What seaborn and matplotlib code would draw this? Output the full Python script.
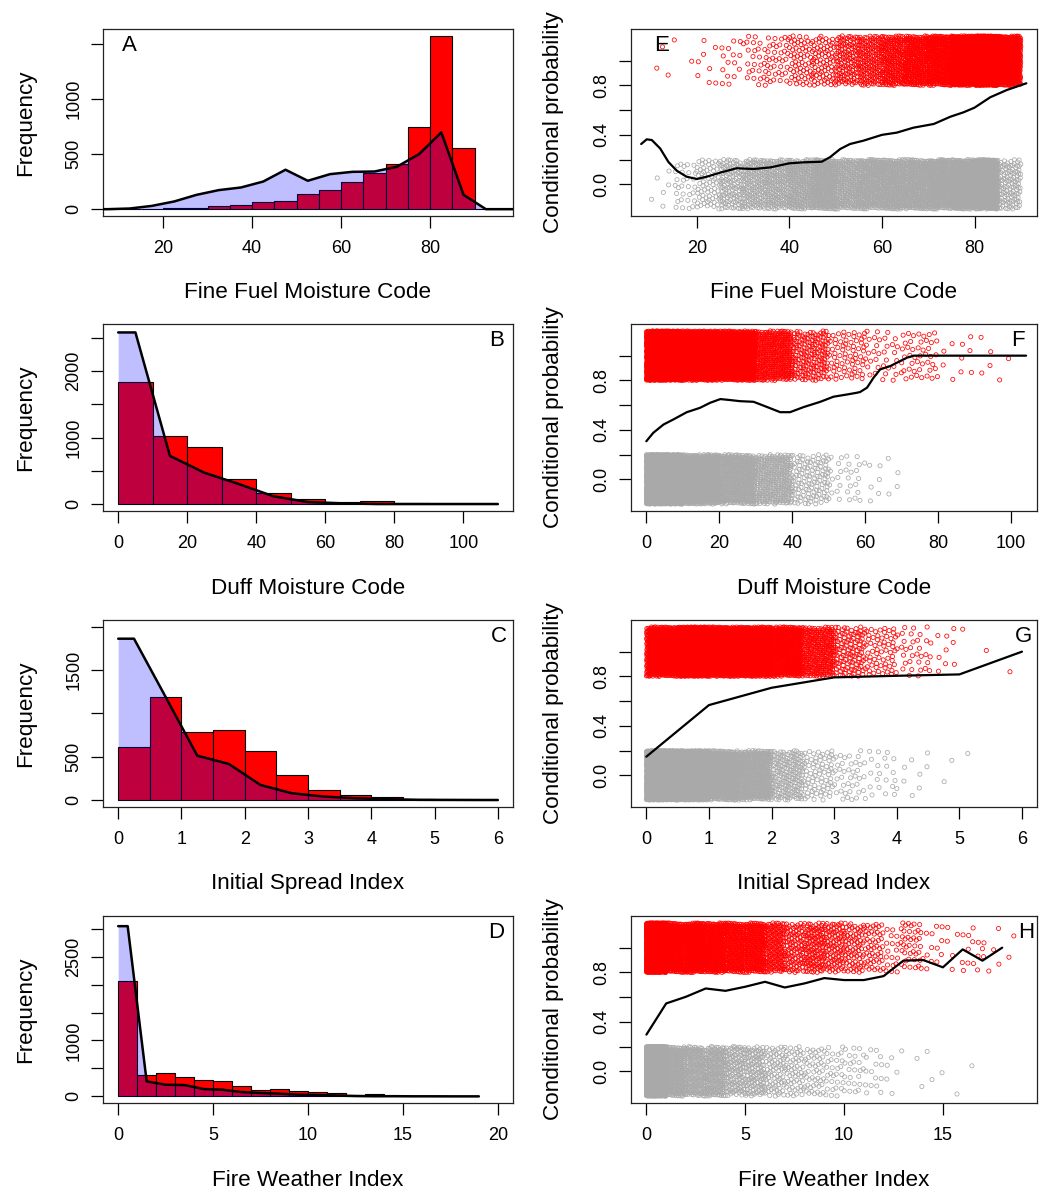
import numpy as np
import pandas as pd
import matplotlib
matplotlib.use("Agg")
import matplotlib.pyplot as plt
import seaborn as sns

# ---------------- histogram data (red = fire days, blue polygon = no-fire days) ----------------
ffmc_edges = [5, 10, 15, 20, 25, 30, 35, 40, 45, 50, 55, 60, 65, 70, 75, 80, 85, 90, 95, 100]
ffmc_fire = [0, 3, 2, 8, 15, 27, 36, 64, 76, 136, 173, 248, 324, 406, 748, 1576, 558, 0, 0]
ffmc_nofire = [0, 6, 30, 70, 130, 173, 197, 251, 358, 258, 318, 339, 342, 385, 500, 697, 130, 0, 0]

dmc_edges = [0, 10, 20, 30, 40, 50, 60, 70, 80, 90, 100, 110]
dmc_fire = [1841, 1026, 860, 382, 171, 70, 35, 45, 10, 6, 1]
dmc_nofire = [2580, 724, 470, 300, 116, 30, 10, 0, 0, 0, 0]

isi_edges = [0.0, 0.5, 1.0, 1.5, 2.0, 2.5, 3.0, 3.5, 4.0, 4.5, 5.0, 5.5, 6.0]
isi_fire = [616, 1194, 785, 808, 562, 289, 119, 62, 31, 12, 2, 1]
isi_nofire = [1863, 1190, 512, 416, 173, 77, 40, 20, 9, 2, 1, 0]

fwi_edges = [0, 1, 2, 3, 4, 5, 6, 7, 8, 9, 10, 11, 12, 13, 14, 15, 16, 17, 18, 19]
fwi_fire = [2065, 387, 411, 351, 286, 280, 179, 107, 131, 101, 77, 54, 24, 36, 12, 6, 12, 6, 2]
fwi_nofire = [3046, 268, 208, 202, 131, 119, 77, 60, 48, 30, 24, 15, 6, 2, 3, 1, 1, 0, 0]

# ---------------- conditional probability curves ----------------
ffmc_cp_x = [8.0, 9.2, 10.3, 12.1, 13.9, 15.7, 17.8, 20.0, 22.2, 25.0, 28.6, 32.3, 35.9, 40.0,
             43.1, 47.0, 48.8, 51.0, 53.1, 56.0, 60.0, 63.2, 66.8, 71.2, 74.8, 77.6, 80.0, 83.4, 87.0, 91.2]
ffmc_cp_y = [0.326, 0.364, 0.358, 0.29, 0.18, 0.11, 0.062, 0.043, 0.062, 0.094, 0.13, 0.124, 0.137, 0.17,
             0.178, 0.183, 0.22, 0.286, 0.326, 0.353, 0.40, 0.418, 0.458, 0.488, 0.547, 0.582, 0.62, 0.704, 0.763, 0.817]

dmc_cp_x = [0, 1.9, 4.7, 7.4, 11.1, 14.7, 17.5, 20.3, 23.0, 25.7, 29.4, 33.0, 36.7, 39.4, 43.1, 47.7,
            51.3, 55.0, 57.7, 58.6, 60.5, 62.3, 64.1, 66.9, 68.7, 71.5, 73.3, 75.1, 104.1]
dmc_cp_y = [0.308, 0.376, 0.443, 0.484, 0.543, 0.578, 0.619, 0.649, 0.641, 0.632, 0.627, 0.586, 0.543, 0.543,
            0.584, 0.627, 0.668, 0.686, 0.700, 0.706, 0.741, 0.822, 0.889, 0.916, 0.943, 0.984, 1.0, 1.0, 1.0]

isi_cp_x = [0, 1, 2, 3, 4, 5, 6]
isi_cp_y = [0.151, 0.568, 0.708, 0.792, 0.805, 0.816, 1.0]

fwi_cp_x = [0, 1, 2, 3, 4, 5, 6, 7, 8, 9, 10, 11, 12, 13, 14, 15, 16, 17, 18]
fwi_cp_y = [0.297, 0.549, 0.603, 0.670, 0.651, 0.684, 0.724, 0.678, 0.711, 0.754, 0.738, 0.738,
            0.770, 0.895, 0.900, 0.841, 0.986, 0.895, 1.0]

# ---------------- labels / axes ----------------
var_names = ["Fine Fuel Moisture Code", "Duff Moisture Code", "Initial Spread Index", "Fire Weather Index"]
hist_letters = ["A", "B", "C", "D"]
cp_letters = ["E", "F", "G", "H"]
hist_xticks = [[20, 40, 60, 80], [0, 20, 40, 60, 80, 100], [0, 1, 2, 3, 4, 5, 6], [0, 5, 10, 15, 20]]
hist_yticks = [[0, 500, 1000, 1500], [0, 500, 1000, 1500, 2000, 2500],
               [0, 500, 1000, 1500, 2000], [0, 500, 1000, 1500, 2000, 2500, 3000]]
hist_ylabels = [["0", "500", "1000", ""], ["0", "", "1000", "", "2000", ""],
                ["0", "500", "", "1500", ""], ["0", "", "1000", "", "", "2500", ""]]
hist_xlim = [(6.5, 98.6), (-4.4, 114.4), (-0.24, 6.24), (-0.8, 20.8)]
hist_ylim = [(-62, 1636), (-105, 2707), (-81, 2079), (-119, 3228)]
cp_xticks = [[20, 40, 60, 80], [0, 20, 40, 60, 80, 100], [0, 1, 2, 3, 4, 5, 6], [0, 5, 10, 15]]
cp_xlim = [(5.8, 93.5), (-4.2, 107.1), (-0.245, 6.24), (-0.78, 19.76)]
cp_yticks = [0.0, 0.2, 0.4, 0.6, 0.8, 1.0]
cp_ylabels = ["0.0", "", "0.4", "", "0.8", ""]
hist_letter_pos = [(0.065, 0.882), (0.961, 0.882), (0.965, 0.882), (0.960, 0.882)]
cp_letter_pos = [(0.076, 0.885), (0.952, 0.882), (0.966, 0.882), (0.973, 0.885)]

hist_data = [(ffmc_edges, ffmc_fire, ffmc_nofire), (dmc_edges, dmc_fire, dmc_nofire),
             (isi_edges, isi_fire, isi_nofire), (fwi_edges, fwi_fire, fwi_nofire)]
cp_data = [(ffmc_cp_x, ffmc_cp_y), (dmc_cp_x, dmc_cp_y), (isi_cp_x, isi_cp_y), (fwi_cp_x, fwi_cp_y)]

# ---------------- style ----------------
sns.set_style("ticks")
plt.rcParams["font.family"] = ["Liberation Sans", "DejaVu Sans"]
plt.rcParams["axes.edgecolor"] = "#222222"
plt.rcParams["axes.linewidth"] = 0.9
plt.rcParams["text.color"] = "black"
plt.rcParams["axes.labelcolor"] = "black"
plt.rcParams["xtick.color"] = "black"
plt.rcParams["ytick.color"] = "black"

FIRE = "#FF0000"
NOFIRE_FILL = (0.0, 0.0, 1.0, 0.25)
GRAY = "#A9A9A9"
TICK_FS = 13
LAB_FS = 16.2
LET_FS = 16

W, H = 1047, 1189
fig = plt.figure(figsize=(W / 100, H / 100), dpi=100)
rows_top = [29, 324, 620, 916]
box_h = 187
left_box = (103, 410)
right_box = (631, 406)


def style_axis(ax, xticks, yticks, ylabels, xlim, ylim, xlabel, ylabel, wpx):
    ax.set_xlim(*xlim)
    ax.set_ylim(*ylim)
    ax.set_xticks(xticks)
    ax.set_xticklabels([str(t) for t in xticks])
    ax.set_yticks(yticks)
    ax.set_yticklabels(ylabels)
    ax.tick_params(axis="both", direction="out", length=8.5, width=0.9, colors="black",
                   labelsize=TICK_FS, bottom=True, left=True, top=False, right=False)
    ax.tick_params(axis="x", pad=8.5)
    ax.tick_params(axis="y", pad=6.5, labelrotation=90)
    for lbl in ax.get_yticklabels():
        lbl.set_va("center")
    ax.set_xlabel(xlabel, fontsize=LAB_FS, va="center", color="black")
    ax.xaxis.set_label_coords(0.5, -77 / box_h)
    ax.set_ylabel(ylabel, fontsize=LAB_FS, va="center", color="black")
    ax.yaxis.set_label_coords(-77 / wpx, 0.5)
    for s in ax.spines.values():
        s.set_visible(True)
        s.set_color("#222222")
        s.set_linewidth(0.9)


def jitter_points(edges, counts, center, start):
    a1, a2 = 0.7548776662466927, 0.5698402909980532
    xs, ys = [], []
    k0 = start
    for lo, hi, n in zip(edges[:-1], edges[1:], counts):
        k = np.arange(k0, k0 + n)
        xs.append(lo + (hi - lo) * ((0.5 + a1 * k) % 1.0))
        ys.append(center - 0.2 + 0.4 * ((0.5 + a2 * k) % 1.0))
        k0 += n
    return np.concatenate(xs), np.concatenate(ys)


for i in range(4):
    top = rows_top[i]
    bottom_frac = 1 - (top + box_h) / H
    h_frac = box_h / H
    edges, fire, nofire = hist_data[i]
    edges = np.asarray(edges, dtype=float)
    mids = (edges[:-1] + edges[1:]) / 2

    # ---- left: histogram + frequency polygon ----
    ax = fig.add_axes([left_box[0] / W, bottom_frac, left_box[1] / W, h_frac])
    hdf = pd.DataFrame({"value": mids, "count": np.asarray(fire, dtype=float)})
    sns.histplot(data=hdf, x="value", weights="count", bins=[float(e) for e in edges],
                 color=FIRE, alpha=1.0, edgecolor="black", linewidth=0.8, ax=ax, zorder=2)
    px = np.concatenate([[edges[0]], mids, [edges[-1]]])
    py = np.concatenate([[nofire[0]], nofire, [0]]).astype(float)
    ax.fill_between(px, py, 0, color=NOFIRE_FILL, linewidth=0, zorder=3)
    sns.lineplot(x=px, y=py, color="black", linewidth=1.8, estimator=None, sort=False,
                 ax=ax, zorder=4)
    style_axis(ax, hist_xticks[i], hist_yticks[i], hist_ylabels[i], hist_xlim[i], hist_ylim[i],
               var_names[i], "Frequency", left_box[1])
    lx, ly = hist_letter_pos[i]
    ax.text(lx, ly, hist_letters[i], transform=ax.transAxes, fontsize=LET_FS,
            ha="center", va="baseline", color="black")

    # ---- right: jittered outcomes + conditional probability ----
    ax2 = fig.add_axes([right_box[0] / W, bottom_frac, right_box[1] / W, h_frac])
    rx, ry = jitter_points(edges, fire, 1.0, 3)
    gx, gy = jitter_points(edges, nofire, 0.0, 7)
    sns.scatterplot(x=rx, y=ry, s=9, color=FIRE, facecolor="none", edgecolor=FIRE,
                    linewidth=0.55, ax=ax2, zorder=2, clip_on=True)
    sns.scatterplot(x=gx, y=gy, s=9, color=GRAY, facecolor="none", edgecolor=GRAY,
                    linewidth=0.55, ax=ax2, zorder=2, clip_on=True)
    cx, cy = cp_data[i]
    sns.lineplot(x=cx, y=cy, color="black", linewidth=1.6, estimator=None, sort=False,
                 ax=ax2, zorder=4)
    style_axis(ax2, cp_xticks[i], cp_yticks, cp_ylabels, cp_xlim[i], (-0.256, 1.256),
               var_names[i], "Conditional probability", right_box[1])
    lx, ly = cp_letter_pos[i]
    ax2.text(lx, ly, cp_letters[i], transform=ax2.transAxes, fontsize=LET_FS,
             ha="center", va="baseline", zorder=6, color="black")

fig.savefig("out.png", dpi=100)
